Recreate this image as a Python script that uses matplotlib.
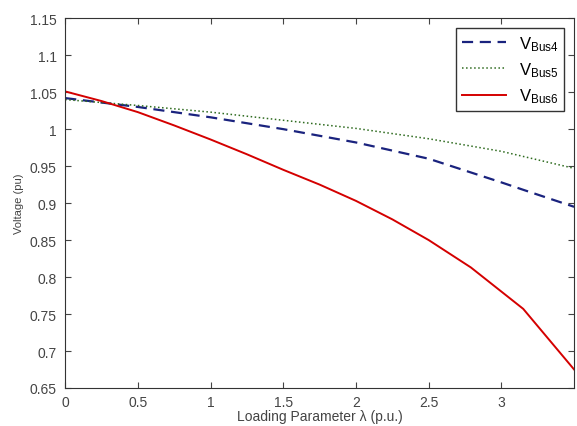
import numpy as np
import matplotlib
matplotlib.use("Agg")
import matplotlib.pyplot as plt

plt.rcParams['font.family'] = ['Liberation Sans', 'DejaVu Sans']
plt.rcParams['mathtext.fontset'] = 'custom'
plt.rcParams['mathtext.rm'] = 'Liberation Sans'
plt.rcParams['mathtext.it'] = 'Liberation Sans'

# datos
lam_bus6 = [0, 0.25, 0.5, 0.75, 1.0, 1.25, 1.5, 1.75, 2.0, 2.25, 2.5, 2.79, 3.15, 3.5]
v_bus6 = [1.051, 1.038, 1.023, 1.005, 0.986, 0.966, 0.945, 0.925, 0.903, 0.878, 0.850, 0.813, 0.757, 0.675]

lam_bus4 = [0, 0.5, 1.0, 1.5, 2.0, 2.5, 3.0, 3.15, 3.5]
v_bus4 = [1.042, 1.030, 1.016, 1.000, 0.982, 0.960, 0.928, 0.918, 0.895]

lam_bus5 = [0, 0.5, 1.0, 1.5, 2.0, 2.5, 3.0, 3.5]
v_bus5 = [1.040, 1.032, 1.023, 1.012, 1.001, 0.987, 0.970, 0.947]

x_ticks = [0, 0.5, 1, 1.5, 2, 2.5, 3]
y_ticks = [0.65, 0.7, 0.75, 0.8, 0.85, 0.9, 0.95, 1, 1.05, 1.1, 1.15]
y_labels = ['0.65', '0.7', '0.75', '0.8', '0.85', '0.9', '0.95', '1', '1.05', '1.1', '1.15']

fig = plt.figure(figsize=(5.77, 4.27), dpi=100)
ax = fig.add_axes([0.113, 0.089, 0.882, 0.866])

ax.plot(lam_bus4, v_bus4, linestyle=(0, (5, 3)), color='#1a237e', lw=1.6, label=r'V$_{\rm Bus4}$')
ax.plot(lam_bus5, v_bus5, linestyle=':', color='#2e6b1f', lw=1.1, label=r'V$_{\rm Bus5}$')
ax.plot(lam_bus6, v_bus6, linestyle='-', color='#d40000', lw=1.4, label=r'V$_{\rm Bus6}$')

ax.set_xlim(0, 3.5)
ax.set_ylim(0.65, 1.15)
ax.set_xticks(x_ticks)
ax.set_xticklabels(['0', '0.5', '1', '1.5', '2', '2.5', '3'])
ax.set_yticks(y_ticks)
ax.set_yticklabels(y_labels)
ax.tick_params(direction='in', top=True, right=True, labelsize=10, colors='#444444', length=4)
ax.tick_params(axis='y', pad=6)
ax.tick_params(axis='x', pad=5)
for s in ax.spines.values():
    s.set_color('#333333')

ax.set_xlabel('Loading Parameter λ (p.u.)', fontsize=10, color='#444444', labelpad=0)
ax.set_ylabel('Voltage (pu)', fontsize=8, color='#444444', labelpad=4)

leg = ax.legend(loc='upper right', fontsize=12, fancybox=False, framealpha=1,
                edgecolor='#333333', handlelength=2.6, borderpad=0.35, labelspacing=0.45,
                borderaxespad=0.6)

fig.savefig('out.png', dpi=100)
